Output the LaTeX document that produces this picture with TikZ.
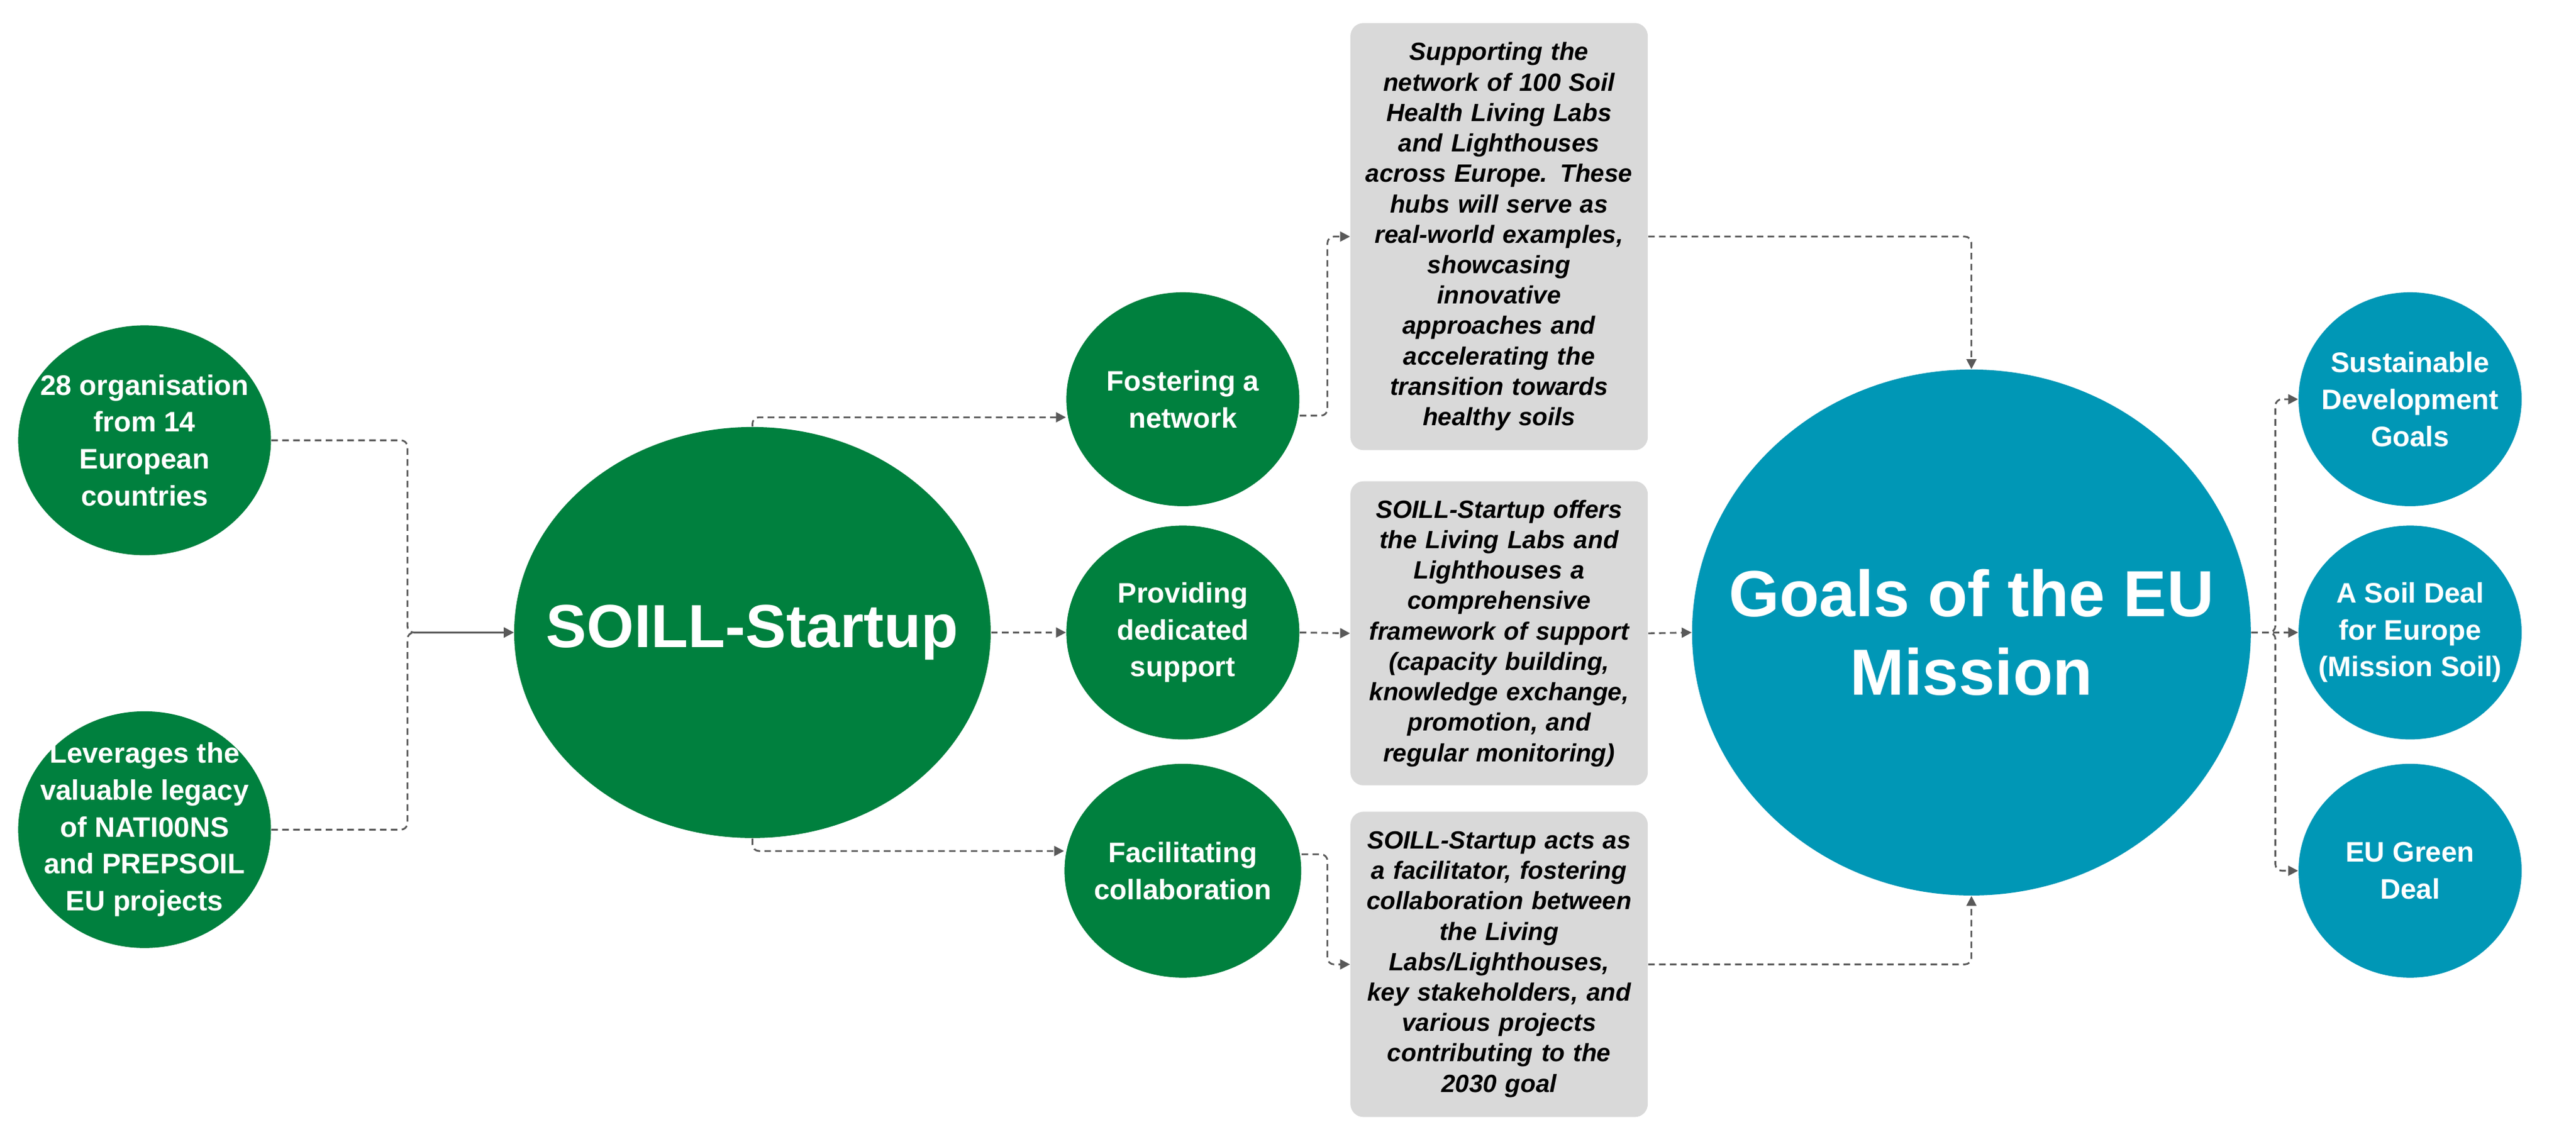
\documentclass[tikz,border=0pt]{standalone}
\usepackage{fontspec}
\setmainfont{Liberation Sans}
\usetikzlibrary{arrows.meta, positioning, shapes.geometric, calc}
\definecolor{soilgreen}{HTML}{00803E}
\definecolor{missionblue}{HTML}{0097B6}
\definecolor{boxgray}{HTML}{D9D9D9}
\definecolor{linegray}{HTML}{595959}

\begin{document}
\begin{tikzpicture}[
    x=0.02658cm, y=-0.02658cm,
    bubble/.style={ellipse, fill=soilgreen, inner sep=0pt},
    goal/.style={ellipse, fill=missionblue, inner sep=0pt},
    txt/.style={text=white, align=center, font=\fontsize{13}{17}\selectfont\bfseries, inner sep=0pt},
    box/.style={rectangle, fill=boxgray, rounded corners=6pt, align=center, minimum width=4.81cm, text width=4.6cm, font=\fontsize{11.5}{14}\selectfont\bfseries\itshape, inner sep=0pt},
    arrow/.style={-{Triangle[length=1.6mm, width=1.6mm]}, linegray, thick, dash pattern=on 3pt off 2pt, rounded corners=3pt}
]
    \useasboundingbox (0,0) rectangle (1568,696);
    % Nodes
    \node[bubble, minimum width=4.09cm, minimum height=3.72cm] (orgs) at (88,268) {};
    \node[txt] at (orgs) {28 organisation\\from 14\\European\\countries};
    \node[bubble, minimum width=4.09cm, minimum height=3.83cm] (legacy) at (88,505) {};
    \node[txt] at (legacy) {Leverages the\\valuable legacy\\of NATI00NS\\and PREPSOIL\\EU projects};
    \node[bubble, minimum width=7.71cm, minimum height=6.65cm] (soill) at (458,385) {};
    \node[txt, font=\fontsize{28}{32}\selectfont\bfseries] at (soill) {SOILL-Startup};
    \node[bubble, minimum width=3.77cm, minimum height=3.46cm] (network) at (720,243) {};
    \node[txt] at (network) {Fostering a\\network};
    \node[bubble, minimum width=3.77cm, minimum height=3.46cm] (support) at (720,385) {};
    \node[txt] at (support) {Providing\\dedicated\\support};
    \node[bubble, minimum width=3.83cm, minimum height=3.46cm] (collab) at (720,530) {};
    \node[txt] at (collab) {Facilitating\\collaboration};
    \node[box, minimum height=6.91cm] (boxnet) at (912.5,144) {Supporting the\\network of 100 Soil\\Health Living Labs\\and Lighthouses\\across Europe. These\\hubs will serve as\\real-world examples,\\showcasing\\innovative\\approaches and\\accelerating the\\transition towards\\healthy soils};
    \node[box, minimum height=4.92cm] (boxsup) at (912.5,385.5) {SOILL-Startup offers\\the Living Labs and\\Lighthouses a\\comprehensive\\framework of support\\(capacity building,\\knowledge exchange,\\promotion, and\\regular monitoring)};
    \node[box, minimum height=4.94cm] (boxcol) at (912.5,587) {SOILL-Startup acts as\\a facilitator, fostering\\collaboration between\\the Living\\Labs/Lighthouses,\\key stakeholders, and\\various projects\\contributing to the\\2030 goal};
    \node[goal, minimum width=9.04cm, minimum height=8.51cm] (mission) at (1200,385) {};
    \node[txt, font=\fontsize{30}{36}\selectfont\bfseries] at (mission) {Goals of the EU\\Mission};
    \node[goal, minimum width=3.61cm, minimum height=3.46cm] (sdg) at (1467,243) {};
    \node[txt] at (sdg) {Sustainable\\Development\\Goals};
    \node[goal, minimum width=3.61cm, minimum height=3.46cm] (deal) at (1467,385) {};
    \node[txt] at (deal) {A Soil Deal\\for Europe\\(Mission Soil)};
    \node[goal, minimum width=3.61cm, minimum height=3.46cm] (green) at (1467,530) {};
    \node[txt] at (green) {EU Green\\Deal};

    % Connectors
    \draw[arrow] (orgs.east) -| (248,385) -- (soill.west);
    \draw[arrow] (legacy.east) -| (248,385) -- (soill.west);
    \draw[arrow] (soill.north) -- (458,254) -- (network.west |- 0,254);
    \draw[arrow] (soill.east) -- (support.west);
    \draw[arrow] (soill.south) -- (458,518) -- (collab.west |- 0,518);
    \draw[arrow] (network.east |- 0,253) -- (808,253) |- (boxnet.west);
    \draw[arrow] (support.east) -- (boxsup.west);
    \draw[arrow] (collab.east |- 0,520) -- (808,520) |- (boxcol.west);
    \draw[arrow] (boxnet.east) -| (mission.north);
    \draw[arrow] (boxsup.east) -- (mission.west);
    \draw[arrow] (boxcol.east) -| (mission.south);
    \draw[arrow] (mission.east) -- (1385,385) |- (sdg.west);
    \draw[arrow] (mission.east) -- (deal.west);
    \draw[arrow] (mission.east) -- (1385,385) |- (green.west);
\end{tikzpicture}
\end{document}
